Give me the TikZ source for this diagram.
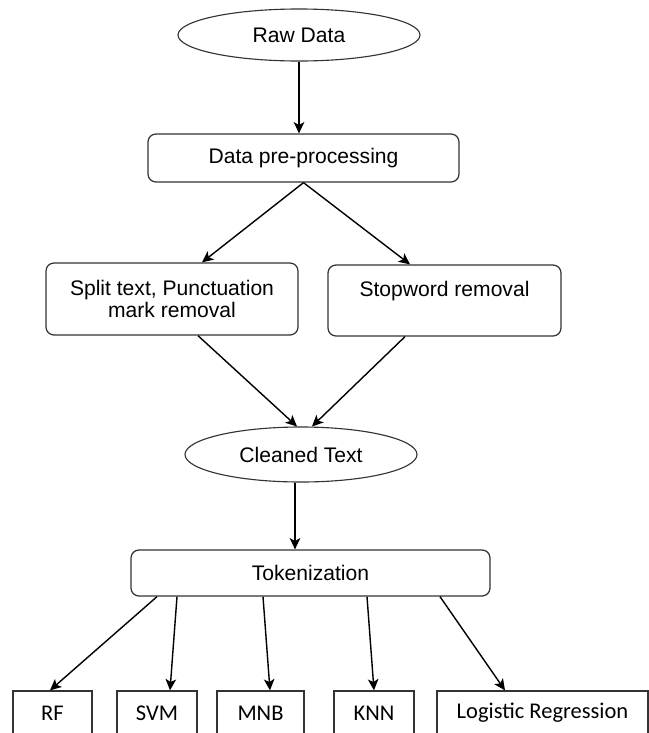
\documentclass[tikz,border=0pt]{standalone}
\usepackage{fontspec}
\setmainfont{Liberation Sans}
\newfontfamily\calibri{Carlito}
\usepackage{tikz}
\usetikzlibrary{shapes, arrows.meta, positioning}

\begin{document}
\begin{tikzpicture}[
  >={Stealth[length=8pt, width=7.5pt, inset=2pt]},
  oval/.style={ellipse, draw=black!80, line width=0.8pt, inner sep=0pt, font=\fontsize{15}{16}\selectfont},
  procbox/.style={rectangle, draw=black!80, line width=0.9pt, rounded corners=0.2cm, inner sep=0pt, align=center, font=\fontsize{15}{16}\selectfont},
  modelbox/.style={rectangle, draw=black!80, line width=0.9pt, minimum height=1.1cm, inner sep=0pt, font=\calibri\fontsize{16}{18}\selectfont},
  arrow/.style={->, line width=1pt}
]
  \useasboundingbox (0,0) rectangle (16.225,-18.325);

  \node[oval, minimum width=6.05cm, minimum height=1.3cm] (raw) at (7.475,-0.875) {Raw Data};
  \node[procbox, minimum width=7.775cm, minimum height=1.2cm] (prep) at (7.5875,-3.95) {Data pre-processing};

  \node[procbox, minimum width=6.3cm, minimum height=1.8cm] (split) at (4.3,-7.475) {Split text, Punctuation\\mark removal};
  \node[procbox, minimum width=5.825cm, minimum height=1.775cm] (stop) at (11.1125,-7.5125) {Stopword removal\\ \mbox{}};

  \node[oval, minimum width=5.8cm, minimum height=1.375cm] (clean) at (7.525,-11.3625) {Cleaned Text};
  \node[procbox, minimum width=8.975cm, minimum height=1.15cm] (token) at (7.7625,-14.325) {Tokenization};

  % classifiers
  \node[modelbox, minimum width=1.975cm] (rf) at (1.3125,-17.825) {RF};
  \node[modelbox, minimum width=2cm] (svm) at (3.925,-17.825) {SVM};
  \node[modelbox, minimum width=2.175cm] (mnb) at (6.5125,-17.825) {MNB};
  \node[modelbox, minimum width=2cm] (knn) at (9.35,-17.825) {KNN};
  \node[modelbox, minimum width=5.275cm] (logreg) at (13.5625,-17.825) {Logistic Regression};

  \draw[arrow] (raw.south) -- (raw.south |- prep.north);
  \draw[arrow] (prep.south) -- ([xshift=0.75cm]split.north);
  \draw[arrow] (prep.south) -- ([xshift=-0.8625cm]stop.north);
  \draw[arrow] ([xshift=0.65cm]split.south) -- ([xshift=-0.1cm]clean.north);
  \draw[arrow] ([xshift=-0.9875cm]stop.south) -- ([xshift=0.275cm]clean.north);
  \draw[arrow] ([xshift=-0.15cm]clean.south) -- ([xshift=-0.15cm]clean.south |- token.north);

  \draw[arrow] ([xshift=-3.8375cm]token.south) -- ([xshift=-0.0625cm]rf.north);
  \draw[arrow] ([xshift=-3.3375cm]token.south) -- ([xshift=0.325cm]svm.north);
  \draw[arrow] ([xshift=-1.1875cm]token.south) -- ([xshift=0.2375cm]mnb.north);
  \draw[arrow] ([xshift=1.4125cm]token.south) -- (knn.north);
  \draw[arrow] ([xshift=3.2375cm]token.south) -- ([xshift=-0.9375cm]logreg.north);
\end{tikzpicture}
\end{document}
